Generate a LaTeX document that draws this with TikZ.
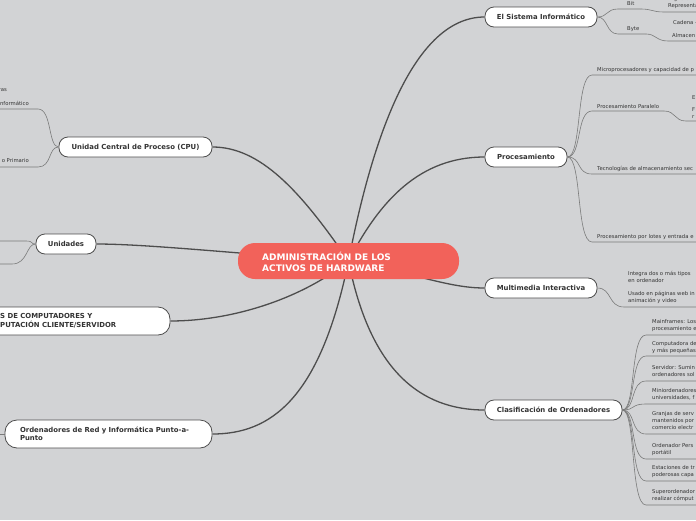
\documentclass[tikz,border=0pt]{standalone}
\usepackage{fontspec}
\setmainfont{DejaVu Sans}
\definecolor{bgc}{HTML}{D2D3D5}
\definecolor{edge}{HTML}{4D4D4D}
\definecolor{subc}{HTML}{7A7A7A}
\definecolor{centr}{HTML}{F2625A}
\definecolor{txt}{HTML}{333333}
\pgfdeclarelayer{back}
\pgfdeclarelayer{lines}
\pgfsetlayers{back,lines,main}
\begin{document}
\begin{tikzpicture}[x=1pt,y=-1pt,
 topic/.style={draw=edge, line width=0.8pt, fill=white, rounded corners=9pt, minimum height=20pt, inner sep=0pt, font=\fontsize{6.9}{8}\selectfont\bfseries, text=txt},
 conn/.style={draw=edge, line width=1.3pt},
 subconn/.style={draw=subc, line width=0.6pt},
 leaf/.style={font=\fontsize{5.3}{7}\selectfont, text=txt, inner sep=0pt, anchor=west, align=left},
 lleaf/.style={leaf, anchor=east, align=right},
]
\useasboundingbox (0,0) rectangle (696,520);
\clip (0,0) rectangle (696,520);
\begin{pgfonlayer}{back}
\fill[bgc] (0,0) rectangle (696,520);
\end{pgfonlayer}

% central
\node[fill=centr, rounded corners=17pt, minimum width=221pt, minimum height=36pt, inner sep=0pt] (root) at (348.5,261) {};
\node[anchor=west, align=left, text=white, inner sep=0pt, font=\fontsize{9}{11}\selectfont\bfseries] (roottxt) at (262,261.5) {ADMINISTRACIÓN DE LOS\\ACTIVOS DE HARDWARE};

% topics
\node[topic, minimum width=112pt] (sys) at (541,17) {El Sistema Informático};
\node[topic, minimum width=82pt] (proc) at (526,157) {Procesamiento};
\node[topic, minimum width=112pt] (mm) at (541,288) {Multimedia Interactiva};
\node[topic, minimum width=137pt] (cls) at (553.5,410) {Clasificación de Ordenadores};
\node[topic, minimum width=153pt] (cpu) at (135.5,147) {Unidad Central de Proceso (CPU)};
\node[topic, minimum width=60pt] (uni) at (66,244) {Unidades};
\node[topic, minimum width=200pt, minimum height=28pt, rounded corners=12pt] (redes) at (70,321) {};
\node[anchor=west, align=left, inner sep=0pt, text=txt, font=\fontsize{6.9}{8.5}\selectfont\bfseries] (redestxt) at (0,321) {S DE COMPUTADORES Y\\PUTACIÓN CLIENTE/SERVIDOR};
\node[topic, minimum width=207pt, minimum height=28pt, rounded corners=12pt, text width=177pt, inner xsep=15pt, align=left, font=\fontsize{6.9}{8.3}\selectfont\bfseries] (ord) at (108.5,434) {Ordenadores de Red y Informática Punto-a-\\Punto};

% main connectors
\begin{pgfonlayer}{lines}
\draw[conn] (root.center) .. controls (370,150) and (410,17) .. (sys.west);
\draw[conn] (root.center) .. controls (380,200) and (420,157) .. (proc.west);
\draw[conn] (root.center) .. controls (420,275) and (450,288) .. (mm.west);
\draw[conn] (root.center) .. controls (370,370) and (420,410) .. (cls.west);
\draw[conn] (root.center) .. controls (300,190) and (260,147) .. (cpu.east);
\draw[conn] (root.center) .. controls (250,255) and (150,244) .. (uni.east);
\draw[conn] (root.center) .. controls (300,300) and (230,321) .. (redes.east);
\draw[conn] (root.center) .. controls (320,400) and (270,434) .. (ord.east);
\end{pgfonlayer}

% El Sistema children
\node[leaf] (bit) at (627,3) {Bit};
\node[leaf] (byte) at (627,29) {Byte};
\node[leaf] (bit1) at (668,2.5) {Dígito bin\\Representa};
\node[leaf] (byte1) at (673,23) {Cadena -};
\node[leaf] (byte2) at (672,35.5) {Almacen};
\coordinate (bitE) at (641,9);
\coordinate (byteE) at (646,34);
\draw[subconn] (sys.east) .. controls (608,17) and (606,9) .. (618,9) -- (bitE);
\draw[subconn] (bitE) .. controls (652,9) and (652,12) .. (664,12) -- (696,12);
\draw[subconn] (sys.east) .. controls (608,17) and (606,34) .. (618,34) -- (byteE);
\draw[subconn] (byteE) .. controls (656,34) and (656,41) .. (668,41) -- (696,41);

% Procesamiento children
\node[leaf] (p1) at (597,70.5) {Microprocesadores y capacidad de p};
\node[leaf] (p2) at (597,106.5) {Procesamiento Paralelo};
\node[leaf] (p21) at (692,98) {E};
\node[leaf] (p22) at (692,113) {F\\r};
\node[leaf] (p3) at (597,168.5) {Tecnologías de almacenamiento sec};
\node[leaf] (p4) at (597,237.5) {Procesamiento por lotes y entrada e};
\coordinate (p2E) at (664,111);
\draw[subconn] (proc.east) .. controls (582,157) and (576,75) .. (592,75) -- (696,75);
\draw[subconn] (proc.east) .. controls (582,157) and (576,111) .. (592,111) -- (p2E);
\draw[subconn] (p2E) .. controls (676,111) and (674,121) .. (686,121) -- (696,121);
\draw[subconn] (proc.east) .. controls (582,157) and (576,174) .. (592,174) -- (696,174);
\draw[subconn] (proc.east) .. controls (582,157) and (576,242) .. (592,242) -- (696,242);

% Multimedia children
\node[leaf] (m1) at (628,277) {Integra dos o más tipos\\en ordenador};
\node[leaf] (m2) at (628,297.5) {Usado en páginas web in\\animación y video};
\draw[subconn] (mm.east) .. controls (612,288) and (608,307) .. (624,307) -- (696,307);

% Clasificacion children
\node[leaf] (c1) at (652,325.5) {Mainframes: Los\\procesamiento e};
\node[leaf] (c2) at (652,348) {Computadora de\\y más pequeñas};
\node[leaf] (c3) at (652,371.5) {Servidor: Sumin\\ordenadores sol};
\node[leaf] (c4) at (652,394.5) {Miniordenadores\\universidades, f};
\node[leaf] (c5) at (652,421) {Granjas de serv\\mantenidos por\\comercio electr};
\node[leaf] (c6) at (652,449.5) {Ordenador Pers\\portátil};
\node[leaf] (c7) at (652,472) {Estaciones de tr\\poderosas capa};
\node[leaf] (c8) at (652,495.5) {Superordenador\\realizar cómput};
\foreach \yy in {335,356,381,404,434,459,481,505}{
  \draw[subconn] (cls.east) .. controls (636,410) and (630,\yy) .. (646,\yy) -- (696,\yy);
}

% CPU children (left)
\node[lleaf] (u1) at (7,90) {ras};
\node[lleaf] (u2) at (29,103) {nformático};
\node[lleaf] (u3) at (29,161) {o Primario};
\draw[subconn] (cpu.west) .. controls (48,147) and (52,109) .. (38,109) -- (0,109);
\draw[subconn] (cpu.west) .. controls (48,147) and (52,167) .. (38,167) -- (0,167);

% Unidades children
\draw[subconn] (uni.west) .. controls (30,244) and (34,241) .. (26,241) -- (0,241);
\draw[subconn] (uni.west) .. controls (26,244) and (28,264) .. (12,264) -- (0,264);

% Ordenadores de Red child
\draw[subconn] (ord.west) -- (0,434);
\end{tikzpicture}
\end{document}
